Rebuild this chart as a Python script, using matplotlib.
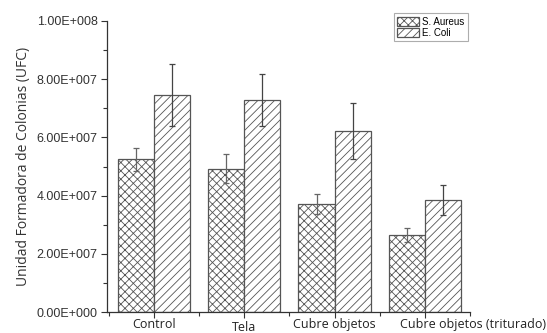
import numpy as np
import matplotlib.pyplot as plt
import matplotlib.transforms as mtransforms
from matplotlib.ticker import MultipleLocator

categories = ["Control", "Tela", "Cubre objetos", "Cubre objetos (triturado)"]
s_aureus = [5.25e7, 4.92e7, 3.70e7, 2.65e7]
s_aureus_err = [0.40e7, 0.50e7, 0.34e7, 0.23e7]
e_coli = [7.46e7, 7.28e7, 6.22e7, 3.85e7]
e_coli_err = [1.06e7, 0.90e7, 0.95e7, 0.52e7]

plt.rcParams['hatch.color'] = '#999999'
plt.rcParams['hatch.linewidth'] = 0.6

fig = plt.figure(figsize=(5.47, 3.33), dpi=100)
ax = fig.add_axes([0.196, 0.063, 0.663, 0.874])

x = np.arange(len(categories))
w = 0.4
ax.bar(x - w/2, s_aureus, w, facecolor='white', edgecolor='#555555', linewidth=0.9,
       hatch='xxxx', label='S. Aureus')
ax.bar(x + w/2, e_coli, w, facecolor='white', edgecolor='#555555', linewidth=0.9,
       hatch='////', label='E. Coli')
ax.errorbar(x - w/2, s_aureus, yerr=s_aureus_err, fmt='none', ecolor='#666666',
            elinewidth=0.9, capsize=2.5, capthick=0.9)
ax.errorbar(x + w/2, e_coli, yerr=e_coli_err, fmt='none', ecolor='#444444',
            elinewidth=0.9, capsize=2.5, capthick=0.9)

ax.set_xlim(-0.52, 3.49)
ax.set_ylim(0, 1e8)
ax.spines['top'].set_visible(False)
ax.spines['right'].set_visible(False)
for s in ['left', 'bottom']:
    ax.spines[s].set_color('#333333')
    ax.spines[s].set_linewidth(0.9)

ax.yaxis.set_minor_locator(MultipleLocator(1e7))
ax.set_yticks([0, 2e7, 4e7, 6e7, 8e7, 1e8])
ax.set_yticklabels(["0.00E+000", "2.00E+007", "4.00E+007", "6.00E+007",
                    "8.00E+007", "1.00E+008"], fontsize=9, color='#333333',
                   family='Liberation Sans')
ax.set_xticks(x)
ax.set_xticks(np.concatenate([[-0.5], x + 0.5]), minor=True)
ax.set_xticklabels(categories, fontsize=9, family='Open Sans', color='#222222')
ax.tick_params(axis='both', which='major', length=4, width=0.8, color='#333333')
ax.tick_params(axis='both', which='minor', length=3, width=0.8, color='#333333')
ax.tick_params(axis='x', which='major', pad=0.5)
ax.tick_params(axis='y', which='major', pad=3)

# label positions as in the original: "Tela" lower, last label shifted right
lbls = ax.get_xticklabels()
lbls[1].set_transform(lbls[1].get_transform() +
                      mtransforms.ScaledTranslation(0, -0.03, fig.dpi_scale_trans))
lbls[3].set_transform(lbls[3].get_transform() +
                      mtransforms.ScaledTranslation(0.48, 0, fig.dpi_scale_trans))

ax.set_ylabel("Unidad Formadora de Colonias (UFC)", fontsize=10, family='Open Sans',
              color='#333333', labelpad=4)

leg = ax.legend(loc='upper right', bbox_to_anchor=(0.995, 1.027), borderaxespad=0,
                frameon=True, fancybox=False, handlelength=2.3, handleheight=1.1,
                handletextpad=0.3, borderpad=0.35, labelspacing=0.15,
                prop={'family': 'Liberation Sans', 'size': 7})
leg.get_frame().set_edgecolor('#999999')
leg.get_frame().set_linewidth(0.8)

fig.savefig("out.png", dpi=100)
